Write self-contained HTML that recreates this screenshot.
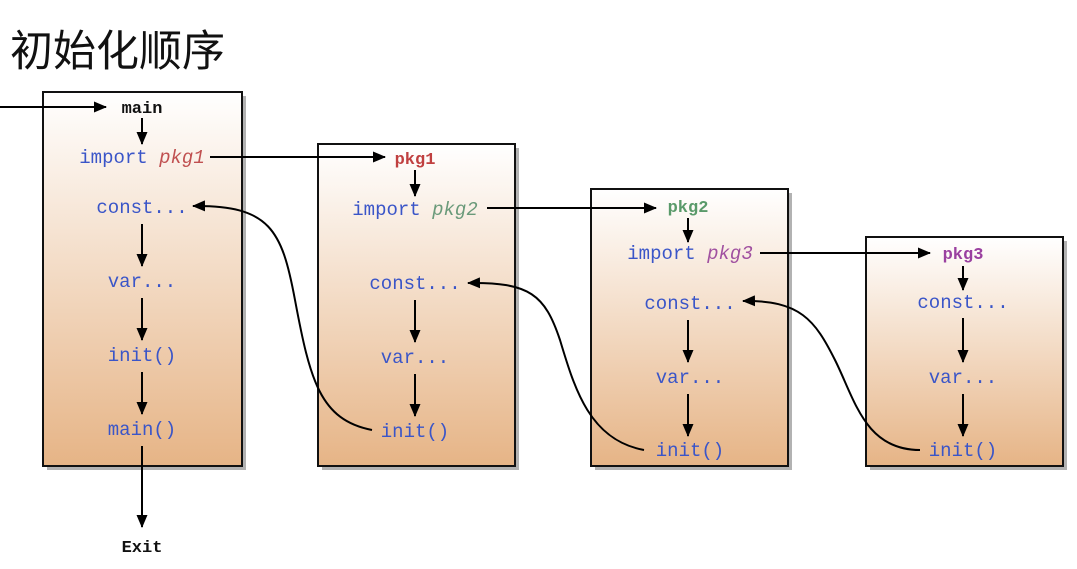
<!DOCTYPE html>
<html><head><meta charset="utf-8"><style>
body{margin:0;background:#fff;width:1077px;height:564px;overflow:hidden}
</style></head><body>
<svg width="1077" height="564" viewBox="0 0 1077 564" xmlns="http://www.w3.org/2000/svg">
<defs>
<linearGradient id="g" x1="0" y1="0" x2="0" y2="1">
<stop offset="0" stop-color="#ffffff"/><stop offset="1" stop-color="#e6b486"/>
</linearGradient>
<marker id="a" markerWidth="13" markerHeight="11" refX="12" refY="5.5" orient="auto" markerUnits="userSpaceOnUse">
<path d="M0,0 L13,5.5 L0,11 z" fill="#000"/></marker>
</defs>
<text x="10" y="66" font-family="'Noto Sans CJK SC',sans-serif" font-size="43" fill="#111">初始化顺序</text>
<g fill="#666"><rect x="47" y="96" width="199" height="374" opacity=".5"/><rect x="322" y="148" width="197" height="322" opacity=".5"/><rect x="595" y="193" width="197" height="277" opacity=".5"/><rect x="870" y="241" width="197" height="229" opacity=".5"/></g>
<g fill="url(#g)" stroke="#111" stroke-width="2">
<rect x="43" y="92" width="199" height="374"/><rect x="318" y="144" width="197" height="322"/><rect x="591" y="189" width="197" height="277"/><rect x="866" y="237" width="197" height="229"/>
</g>
<g font-family="'Liberation Mono',monospace" font-size="19" fill="#3a55c8" text-anchor="middle">
<text x="142" y="113" fill="#111" font-weight="bold" font-size="17">main</text>
<text x="142" y="163"><tspan>import </tspan><tspan fill="#c05050" font-style="italic">pkg1</tspan></text>
<text x="142" y="213">const...</text>
<text x="142" y="287">var...</text>
<text x="142" y="361">init()</text>
<text x="142" y="435">main()</text>
<text x="142" y="552" fill="#111" font-weight="bold" font-size="17">Exit</text>
<text x="415" y="164" fill="#c04040" font-weight="bold" font-size="17">pkg1</text>
<text x="415" y="215"><tspan>import </tspan><tspan fill="#6a9a7a" font-style="italic">pkg2</tspan></text>
<text x="415" y="289">const...</text>
<text x="415" y="363">var...</text>
<text x="415" y="437">init()</text>
<text x="688" y="212" fill="#5a9a6a" font-weight="bold" font-size="17">pkg2</text>
<text x="690" y="259"><tspan>import </tspan><tspan fill="#a050a0" font-style="italic">pkg3</tspan></text>
<text x="690" y="309">const...</text>
<text x="690" y="383">var...</text>
<text x="690" y="456">init()</text>
<text x="963" y="259" fill="#9a40a0" font-weight="bold" font-size="17">pkg3</text>
<text x="963" y="308">const...</text>
<text x="963" y="383">var...</text>
<text x="963" y="456">init()</text>
</g>
<g stroke="#000" stroke-width="2" fill="none" marker-end="url(#a)">
<path d="M0,107 H106"/>
<path d="M142,118 V144"/><path d="M142,224 V266"/><path d="M142,298 V340"/><path d="M142,372 V414"/><path d="M142,446 V527"/>
<path d="M210,157 H385"/>
<path d="M415,170 V196"/><path d="M415,300 V342"/><path d="M415,374 V416"/>
<path d="M487,208 H656"/>
<path d="M688,218 V242"/><path d="M688,320 V362"/><path d="M688,394 V436"/>
<path d="M760,253 H930"/>
<path d="M963,266 V290"/><path d="M963,318 V362"/><path d="M963,394 V436"/>
<path d="M372,430 C320,420 310,380 295,300 C282,230 270,205 193,206"/>
<path d="M644,450 C590,440 575,390 560,340 C545,295 530,282 468,283"/>
<path d="M920,450 C865,450 855,400 835,360 C815,320 800,300 743,301"/>
</g>
</svg>
</body></html>
